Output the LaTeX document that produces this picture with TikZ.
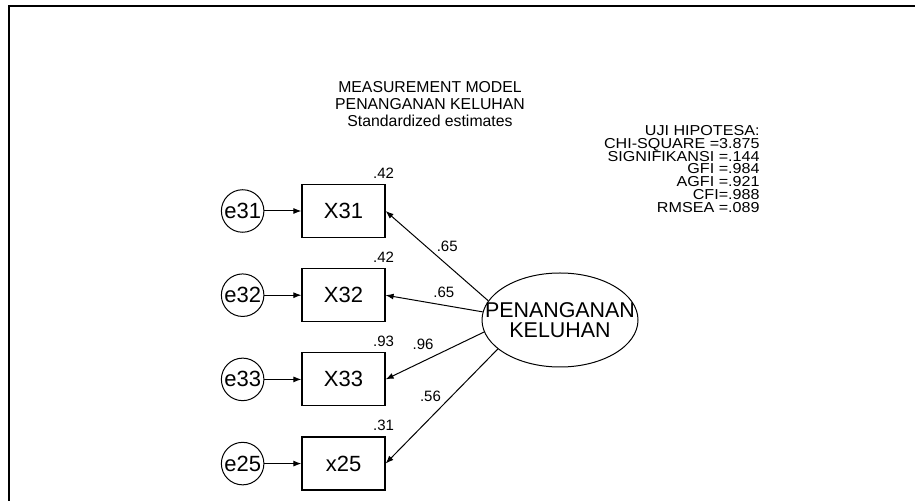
\documentclass[tikz,border=0pt]{standalone}
\usepackage{fontspec}
\setmainfont{Liberation Sans}
\usetikzlibrary{shapes.geometric, arrows.meta, positioning}
\tikzstyle{arrow} = [-{Latex[length=4pt,width=3pt]}, line width=0.5pt]

\begin{document}
\begin{tikzpicture}[x=0.5pt, y=-0.5pt,
	obs/.style={rectangle, draw=black, line width=0.6pt, minimum width=41.5pt, minimum height=26.5pt, inner sep=0pt, font=\fontsize{11}{13}\selectfont},
	err/.style={circle, draw=black, line width=0.5pt, minimum size=21pt, inner sep=0.5pt, font=\fontsize{11}{13}\selectfont},
	latent/.style={ellipse, draw=black, line width=0.5pt, minimum width=78pt, minimum height=47pt, inner sep=0pt, align=center, font=\fontsize{10.7}{10}\selectfont},
	est/.style={inner sep=0pt, font=\fontsize{7.5}{9}\selectfont},
	info/.style={inner sep=0pt, font=\fontsize{7.2}{6.4}\selectfont\addfontfeature{FakeStretch=1.12}}
]
\useasboundingbox (0,0) rectangle (915,501);

% frame of the scanned page
\draw[line width=1pt] (9,501) -- (9,6) -- (915,6);

% titles
\node[inner sep=0pt, anchor=north, align=center, font=\fontsize{7.9}{8.5}\selectfont] (title) at (430,81)
	{MEASUREMENT MODEL\\PENANGANAN KELUHAN\\Standardized estimates};
\node[info, anchor=north east, align=right] (fit) at (760,125)
	{UJI HIPOTESA:\\CHI-SQUARE =3.875\\SIGNIFIKANSI =.144\\GFI =.984\\AGFI =.921\\CFI=.988\\RMSEA =.089};

% indicators
\node[obs] (X31) at (343.5,211) {X31};
\node[obs] (X32) [below=15pt of X31] {X32};
\node[obs] (X33) [below=15pt of X32] {X33};
\node[obs] (X25) [below=15pt of X33] {x25};

% error terms
\node[err] (e31) [left=18.5pt of X31] {e31};
\node[err] (e32) [left=18.5pt of X32] {e32};
\node[err] (e33) [left=18.5pt of X33] {e33};
\node[err] (e25) [left=18.5pt of X25] {e25};
\draw[arrow] (e31) -- (X31);
\draw[arrow] (e32) -- (X32);
\draw[arrow] (e33) -- (X33);
\draw[arrow] (e25) -- (X25);

% squared multiple correlations
\node[est] (r31) [above=2.5pt of X31.north east, xshift=-1pt] {.42};
\node[est] (r32) [above=2.5pt of X32.north east, xshift=-1pt] {.42};
\node[est] (r33) [above=2.5pt of X33.north east, xshift=-1pt] {.93};
\node[est] (r25) [above=2.5pt of X25.north east, xshift=-1pt] {.31};

% latent factor
\node[latent] (F) at (560,320) {\makebox[0pt]{PENANGANAN}\\\makebox[0pt]{KELUHAN}};

% loadings
\draw[arrow] (F.165) -- node[est, pos=.4, above=6.5pt] {.65} (X31.east);
\draw[arrow] (F.174) -- node[est, pos=.4, above=3.5pt] {.65} (X32.east);
\draw[arrow] (F.189) -- node[est, pos=.62, above=5.5pt] {.96} (X33.east);
\draw[arrow] (F.205) -- node[est, pos=.6, above=8pt] {.56} (X25.east);
\end{tikzpicture}
\end{document}
